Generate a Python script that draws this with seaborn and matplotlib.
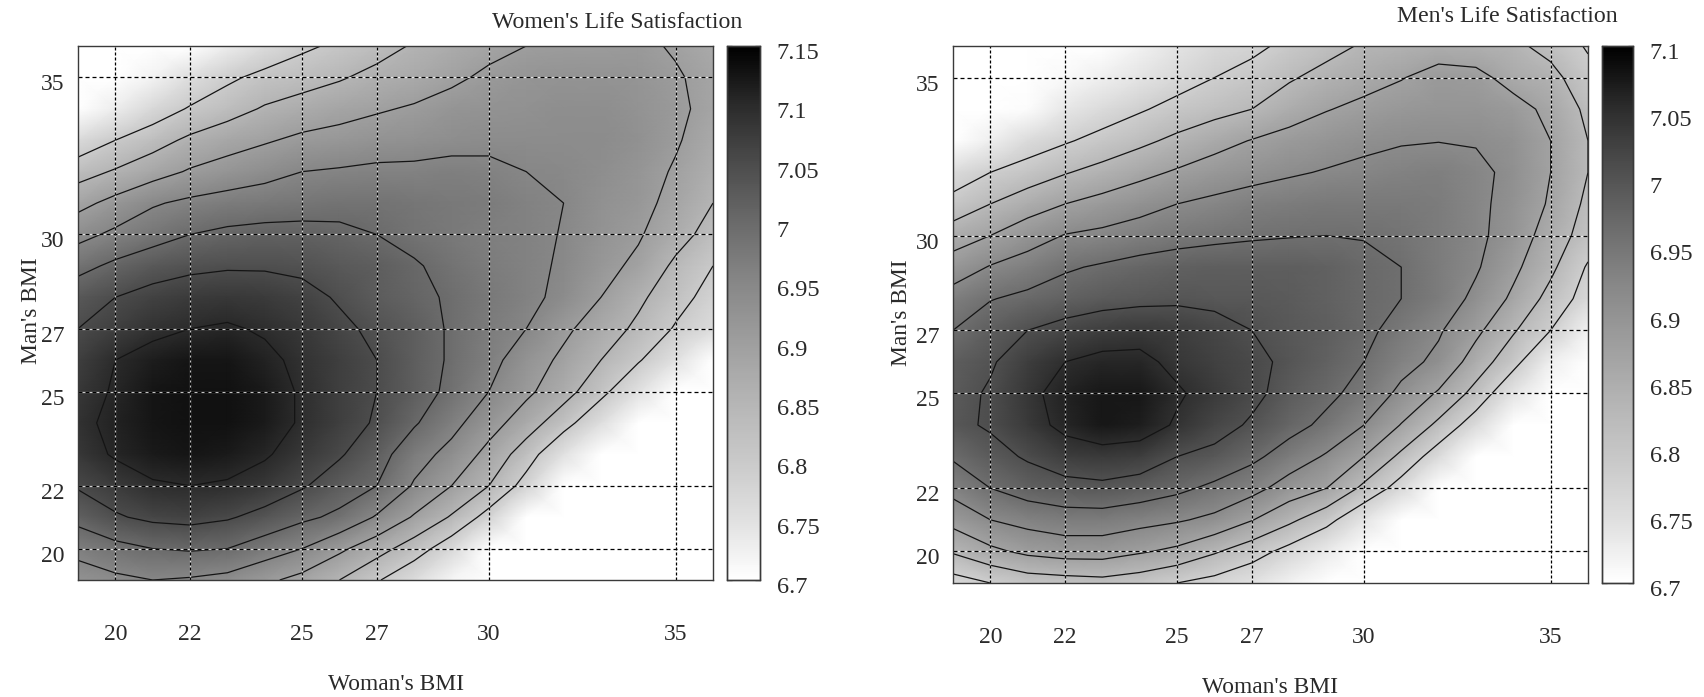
"""
Women's and men's life satisfaction over both partners' BMI, two grey heatmaps
with contour lines. Values are read off the published figure at each whole BMI.
"""

import matplotlib
matplotlib.use("Agg")  # Non-interactive backend for file output
import matplotlib.pyplot as plt
from matplotlib.colors import LinearSegmentedColormap
from matplotlib.transforms import ScaledTranslation
import numpy as np
import seaborn as sns

BMI_X = list(range(19, 37))
BMI_Y = list(range(36, 18, -1))  # top row of the tables first
BMI_TICKS = [20, 22, 25, 27, 30, 35]

# Rows run from Man's BMI 36 down to 19, columns from Woman's BMI 19 to 36
WOMEN_VALUES = [
    [6.70, 6.70, 6.70, 6.70, 6.73, 6.76, 6.79, 6.81, 6.83, 6.855, 6.87, 6.885, 6.90, 6.905, 6.905, 6.91, 6.895, 6.875],
    [6.70, 6.70, 6.72, 6.755, 6.79, 6.815, 6.83, 6.845, 6.865, 6.875, 6.89, 6.91, 6.92, 6.925, 6.925, 6.92, 6.905, 6.885],
    [6.70, 6.73, 6.77, 6.805, 6.83, 6.855, 6.87, 6.885, 6.895, 6.905, 6.92, 6.925, 6.93, 6.935, 6.935, 6.925, 6.91, 6.885],
    [6.765, 6.80, 6.83, 6.86, 6.88, 6.895, 6.91, 6.915, 6.925, 6.93, 6.935, 6.94, 6.94, 6.94, 6.94, 6.93, 6.905, 6.875],
    [6.83, 6.855, 6.88, 6.905, 6.92, 6.935, 6.95, 6.955, 6.96, 6.96, 6.965, 6.96, 6.95, 6.945, 6.935, 6.92, 6.895, 6.865],
    [6.885, 6.915, 6.945, 6.96, 6.97, 6.975, 6.98, 6.985, 6.985, 6.98, 6.975, 6.97, 6.96, 6.95, 6.93, 6.915, 6.885, 6.85],
    [6.935, 6.96, 6.98, 7.00, 7.01, 7.015, 7.015, 7.01, 7.00, 6.985, 6.975, 6.965, 6.96, 6.948, 6.925, 6.905, 6.87, 6.83],
    [6.985, 7.01, 7.03, 7.04, 7.045, 7.045, 7.04, 7.03, 7.02, 7.005, 6.985, 6.97, 6.96, 6.945, 6.915, 6.89, 6.84, 6.80],
    [7.03, 7.05, 7.065, 7.075, 7.08, 7.075, 7.065, 7.045, 7.025, 7.01, 6.995, 6.975, 6.96, 6.94, 6.90, 6.86, 6.82, 6.78],
    [7.05, 7.07, 7.09, 7.10, 7.105, 7.095, 7.08, 7.06, 7.04, 7.02, 6.995, 6.97, 6.95, 6.91, 6.875, 6.84, 6.795, 6.76],
    [7.07, 7.10, 7.115, 7.125, 7.125, 7.11, 7.09, 7.07, 7.05, 7.02, 6.995, 6.965, 6.925, 6.89, 6.85, 6.805, 6.75, 6.70],
    [7.08, 7.105, 7.125, 7.13, 7.13, 7.12, 7.095, 7.07, 7.05, 7.02, 6.99, 6.95, 6.91, 6.87, 6.815, 6.75, 6.70, 6.70],
    [7.09, 7.11, 7.125, 7.13, 7.13, 7.12, 7.095, 7.07, 7.045, 7.005, 6.965, 6.92, 6.875, 6.82, 6.755, 6.70, 6.70, 6.70],
    [7.08, 7.105, 7.12, 7.125, 7.12, 7.105, 7.08, 7.055, 7.02, 6.97, 6.935, 6.885, 6.825, 6.75, 6.70, 6.70, 6.70, 6.70],
    [7.055, 7.075, 7.095, 7.10, 7.095, 7.08, 7.055, 7.025, 7.00, 6.945, 6.90, 6.85, 6.78, 6.70, 6.70, 6.70, 6.70, 6.70],
    [7.015, 7.045, 7.06, 7.065, 7.055, 7.035, 7.01, 6.99, 6.945, 6.895, 6.845, 6.78, 6.70, 6.70, 6.70, 6.70, 6.70, 6.70],
    [6.965, 6.985, 7.00, 7.005, 7.00, 6.975, 6.95, 6.91, 6.87, 6.825, 6.77, 6.70, 6.70, 6.70, 6.70, 6.70, 6.70, 6.70],
    [6.925, 6.94, 6.95, 6.945, 6.935, 6.91, 6.885, 6.85, 6.805, 6.76, 6.715, 6.70, 6.70, 6.70, 6.70, 6.70, 6.70, 6.70],
]

MEN_VALUES = [
    [6.70, 6.70, 6.70, 6.70, 6.70, 6.72, 6.74, 6.76, 6.77, 6.79, 6.81, 6.83, 6.84, 6.85, 6.845, 6.835, 6.81, 6.775],
    [6.70, 6.70, 6.70, 6.71, 6.725, 6.74, 6.76, 6.78, 6.795, 6.82, 6.84, 6.855, 6.868, 6.885, 6.882, 6.855, 6.84, 6.795],
    [6.70, 6.70, 6.705, 6.735, 6.755, 6.775, 6.795, 6.81, 6.825, 6.85, 6.868, 6.88, 6.89, 6.895, 6.895, 6.885, 6.86, 6.815],
    [6.70, 6.725, 6.755, 6.775, 6.795, 6.815, 6.835, 6.855, 6.872, 6.885, 6.895, 6.905, 6.912, 6.914, 6.912, 6.90, 6.87, 6.825],
    [6.755, 6.78, 6.80, 6.822, 6.84, 6.858, 6.875, 6.89, 6.90, 6.91, 6.918, 6.925, 6.93, 6.935, 6.925, 6.905, 6.87, 6.825],
    [6.795, 6.825, 6.85, 6.87, 6.885, 6.90, 6.915, 6.925, 6.935, 6.94, 6.945, 6.945, 6.945, 6.94, 6.925, 6.90, 6.865, 6.815],
    [6.85, 6.87, 6.895, 6.917, 6.925, 6.935, 6.945, 6.95, 6.955, 6.958, 6.96, 6.958, 6.952, 6.94, 6.925, 6.895, 6.85, 6.805],
    [6.89, 6.918, 6.935, 6.955, 6.965, 6.975, 6.98, 6.985, 6.985, 6.985, 6.98, 6.97, 6.96, 6.94, 6.92, 6.88, 6.835, 6.775],
    [6.935, 6.958, 6.97, 6.98, 6.99, 6.995, 6.998, 6.995, 6.995, 6.99, 6.98, 6.97, 6.96, 6.94, 6.905, 6.862, 6.81, 6.76],
    [6.96, 6.985, 7.005, 7.02, 7.03, 7.035, 7.03, 7.02, 7.005, 6.995, 6.985, 6.97, 6.945, 6.92, 6.88, 6.83, 6.78, 6.72],
    [6.985, 7.00, 7.03, 7.05, 7.06, 7.06, 7.04, 7.025, 7.015, 6.997, 6.98, 6.96, 6.93, 6.905, 6.85, 6.795, 6.725, 6.70],
    [6.99, 7.01, 7.04, 7.065, 7.075, 7.075, 7.055, 7.035, 7.015, 6.99, 6.97, 6.945, 6.905, 6.865, 6.81, 6.74, 6.70, 6.70],
    [6.995, 7.01, 7.035, 7.06, 7.075, 7.07, 7.045, 7.02, 7.00, 6.975, 6.95, 6.915, 6.868, 6.815, 6.755, 6.70, 6.70, 6.70],
    [6.965, 6.99, 7.01, 7.03, 7.035, 7.03, 7.005, 6.995, 6.97, 6.94, 6.91, 6.87, 6.815, 6.755, 6.70, 6.70, 6.70, 6.70],
    [6.93, 6.96, 6.98, 6.99, 6.995, 6.985, 6.97, 6.95, 6.93, 6.895, 6.87, 6.815, 6.76, 6.70, 6.70, 6.70, 6.70, 6.70],
    [6.885, 6.915, 6.93, 6.94, 6.94, 6.93, 6.92, 6.905, 6.872, 6.835, 6.795, 6.74, 6.70, 6.70, 6.70, 6.70, 6.70, 6.70],
    [6.83, 6.86, 6.88, 6.89, 6.89, 6.875, 6.86, 6.83, 6.80, 6.765, 6.73, 6.70, 6.70, 6.70, 6.70, 6.70, 6.70, 6.70],
    [6.76, 6.78, 6.80, 6.805, 6.81, 6.80, 6.78, 6.765, 6.745, 6.72, 6.70, 6.70, 6.70, 6.70, 6.70, 6.70, 6.70, 6.70],
]

WOMEN_LEVELS = [6.80, 6.85, 6.90, 6.95, 7.00, 7.05, 7.10]
MEN_LEVELS = [6.78, 6.825, 6.87, 6.915, 6.96, 7.005, 7.05]
WOMEN_CBAR = [6.7, 6.75, 6.8, 6.85, 6.9, 6.95, 7, 7.05, 7.1, 7.15]
MEN_CBAR = [6.7, 6.75, 6.8, 6.85, 6.9, 6.95, 7, 7.05, 7.1]

# The source's grey ramp is not linear, these are the greys along its colour bar
RAMP_GREYS = ["1.0", "0.88", "0.79", "0.71", "0.62", "0.53", "0.42", "0.30", "0.17", "0.0"]

FIG_W, FIG_H = 1704, 697
TEXT_COLOR = "#2a2a2a"
FRAME_COLOR = "#3a3a3a"
DOWN_5PX = (0, -5 / 100)
LABEL_SIZE = 16.9
TICK_SIZE = 17


def px_axes(left, right, top, bottom):
    """Axes rectangle given in reference pixels."""
    return [left / FIG_W, 1 - bottom / FIG_H, (right - left) / FIG_W, (bottom - top) / FIG_H]


def draw_panel(fig, values, levels, cbar_ticks, title, box, cbar_box, title_pos, ylabel_x):
    ax = fig.add_axes(px_axes(*box))
    cax = fig.add_axes(px_axes(*cbar_box))
    z = np.array(values)
    ramp = LinearSegmentedColormap.from_list("ramp", RAMP_GREYS)

    sns.heatmap(
        z, ax=ax, cbar_ax=cax, cmap=ramp, vmin=cbar_ticks[0], vmax=cbar_ticks[-1],
        xticklabels=False, yticklabels=False, shading="gouraud",
    )
    # gouraud puts the table values on the grid nodes, so the range is one short
    ax.set_xlim(0, len(BMI_X) - 1)
    ax.set_ylim(len(BMI_Y) - 1, 0)

    ax.contour(np.arange(len(BMI_X)), np.arange(len(BMI_Y)), z, levels=levels,
               colors="#141414", linewidths=0.9, zorder=3)

    xpos = [BMI_X.index(t) for t in BMI_TICKS]
    ypos = [BMI_Y.index(t) for t in BMI_TICKS]

    # White under black: the dashes show as light dots over the dark cells
    for p in xpos:
        ax.axvline(p, color="white", lw=0.9, alpha=0.75, zorder=4)
        ax.axvline(p, color="black", lw=0.9, ls=(0, (2.4, 1.6)), zorder=5)
    for p in ypos:
        ax.axhline(p, color="white", lw=0.9, alpha=0.75, zorder=4)
        ax.axhline(p, color="black", lw=0.9, ls=(0, (3.2, 2.4)), zorder=5)

    ax.set_xticks(xpos, labels=BMI_TICKS)
    ax.set_yticks(ypos, labels=BMI_TICKS, rotation=0)
    ax.tick_params(axis="both", direction="in", length=4, width=0.9, color="#1a1a1a",
                   left=True, right=True, top=True, bottom=True,
                   labelsize=TICK_SIZE, labelcolor=TEXT_COLOR)
    ax.tick_params(axis="x", pad=32)
    ax.tick_params(axis="y", pad=10)
    for spine in ax.spines.values():
        spine.set_visible(True)
        spine.set_color(FRAME_COLOR)
        spine.set_linewidth(1.0)
        spine.set_zorder(6)

    ax.set_xlabel("Woman's BMI", fontsize=LABEL_SIZE, color=TEXT_COLOR, va="center")
    ax.xaxis.set_label_coords(0.5, -0.195)
    ax.set_ylabel("Man's BMI", fontsize=LABEL_SIZE, color=TEXT_COLOR, va="center")
    ax.yaxis.set_label_coords(ylabel_x, 0.504)
    ax.set_title(title, fontsize=17.1, color=TEXT_COLOR, va="center", pad=0,
                 x=title_pos[0], y=title_pos[1])

    cax.set_yticks(cbar_ticks, labels=[f"{t:g}" for t in cbar_ticks])
    cax.tick_params(axis="y", direction="in", left=True, right=True, length=3.5, width=0.9,
                    color=FRAME_COLOR, pad=12, labelsize=17.5, labelcolor=TEXT_COLOR)
    for spine in cax.spines.values():
        spine.set_visible(True)
        spine.set_color(FRAME_COLOR)
        spine.set_linewidth(1.0)

    # The source prints its value labels a few pixels under their ticks
    shift = ScaledTranslation(*DOWN_5PX, fig.dpi_scale_trans)
    for label in ax.get_yticklabels() + cax.get_yticklabels():
        label.set_transform(label.get_transform() + shift)


sns.set_theme(style="white")
plt.rcParams["font.family"] = ["Liberation Serif", "DejaVu Serif"]

fig = plt.figure(figsize=(FIG_W / 100, FIG_H / 100), dpi=100, facecolor="white")

draw_panel(fig, WOMEN_VALUES, WOMEN_LEVELS, WOMEN_CBAR, "Women's Life Satisfaction",
           (78, 713, 46, 580), (727, 760, 46, 580), (0.849, 1.044), -0.0735)
draw_panel(fig, MEN_VALUES, MEN_LEVELS, MEN_CBAR, "Men's Life Satisfaction",
           (953, 1588, 46, 583), (1602, 1633, 46, 583), (0.873, 1.055), -0.0805)

fig.savefig("out.png", dpi=100)
plt.close(fig)
